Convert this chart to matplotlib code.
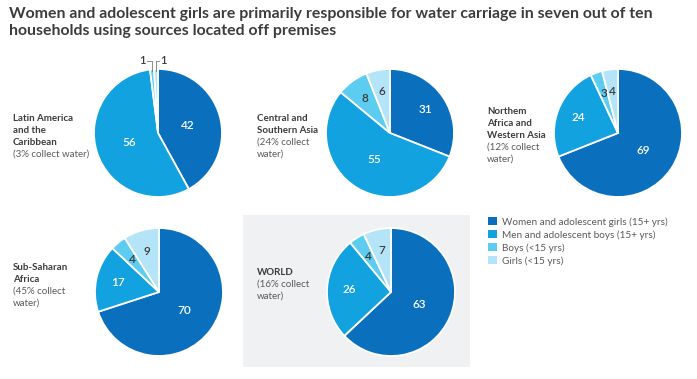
import matplotlib
matplotlib.use("Agg")
import matplotlib.pyplot as plt
from matplotlib.patches import Rectangle, Patch
import numpy as np

W, H = 697, 379

title = ("Women and adolescent girls are primarily responsible for water carriage in seven out of ten\n"
         "households using sources located off premises")

categories = ["Women and adolescent girls (15+ yrs)", "Men and adolescent boys (15+ yrs)",
              "Boys (<15 yrs)", "Girls (<15 yrs)"]
colors = ["#0a70bd", "#12a2df", "#5ccdf1", "#b4e4f7"]

latam = [42, 56, 1, 1]
csasia = [31, 55, 8, 6]
nawasia = [69, 24, 3, 4]
ssafrica = [70, 17, 4, 9]
world = [63, 26, 4, 7]

region_names = ["Latin America\nand the\nCaribbean", "Central and\nSouthern Asia",
                "Northem\nAfrica and\nWestern Asia", "Sub-Saharan\nAfrica", "WORLD"]
region_notes = ["(3% collect water)", "(24% collect\nwater)", "(12% collect\nwater)",
                "(45% collect\nwater)", "(16% collect\nwater)"]

FONT = "Lato"
DARK = "#3c3c3c"
GREY = "#5a5a5a"

fig = plt.figure(figsize=(W / 100, H / 100), dpi=100)
fig.patch.set_facecolor("white")

def fx(x):
    return x / W

def fy(y):
    return 1 - y / H

# grey background box behind WORLD
fig.patches.append(Rectangle((fx(243), fy(367)), fx(470) - fx(243), fy(215) - fy(367),
                             transform=fig.transFigure, facecolor="#f0f1f3",
                             edgecolor="none", zorder=-5))

fig.text(fx(9), fy(7), title, ha="left", va="top", fontsize=11.4, fontweight="bold",
         color=DARK, family=FONT, linespacing=1.25)

pies = [
    (latam, 158, 133, 13, 114),
    (csasia, 390, 133, 257, 114),
    (nawasia, 618, 133, 487, 107),
    (ssafrica, 159, 292, 13, 263),
    (world, 391, 292, 257, 268),
]

R = 64
for idx, (vals, cx, cy, lx, ly) in enumerate(pies):
    pad = 1.15
    size = 2 * R * pad
    ax = fig.add_axes([fx(cx - R * pad), fy(cy + R * pad), size / W, size / H])
    ax.set_zorder(2)
    wedges, _t = ax.pie(vals, colors=colors, startangle=90, counterclock=False,
                        wedgeprops=dict(edgecolor="white", linewidth=1.3))
    ax.set_xlim(-pad, pad)
    ax.set_ylim(-pad, pad)
    ax.set_aspect("equal")
    ax.axis("off")
    total = float(sum(vals))
    for i, (w, v) in enumerate(zip(wedges, vals)):
        ang = np.deg2rad((w.theta1 + w.theta2) / 2)
        if v / total < 0.02:
            continue
        rr = 0.48 if v / total >= 0.4 else 0.66
        col = "white" if i < 2 else DARK
        ax.text(rr * np.cos(ang), rr * np.sin(ang), str(v), ha="center", va="center",
                fontsize=8.5, color=col, family=FONT, fontweight="semibold")
    if idx == 0:
        # tiny slices labelled outside with leader lines
        for i, tx in [(2, -0.24), (3, 0.08)]:
            w = wedges[i]
            ang = np.deg2rad((w.theta1 + w.theta2) / 2)
            px, py = np.cos(ang), np.sin(ang)
            ty = 1.13
            bx = tx + (0.07 if tx < px else -0.07)
            ax.plot([bx, px, px], [ty, ty, py * 0.97], color="#777777", lw=0.6,
                    clip_on=False)
            ax.text(tx, ty, str(vals[i]), ha="center", va="center", fontsize=8,
                    color=DARK, family=FONT, fontweight="semibold", clip_on=False)
    name = region_names[idx]
    nlines = name.count("\n") + 1
    lh = 11.8
    fig.text(fx(lx), fy(ly), name, ha="left", va="top", fontsize=7, fontweight="bold",
             color=DARK, family=FONT, linespacing=1.45)
    fig.text(fx(lx), fy(ly + nlines * lh), region_notes[idx], ha="left", va="top",
             fontsize=7, color=GREY, family=FONT, linespacing=1.45)

handles = [Patch(facecolor=c, edgecolor="none") for c in colors]
leg = fig.legend(handles, categories, loc="upper left", bbox_to_anchor=(fx(484), fy(213)),
                 frameon=False, handlelength=0.85, handleheight=0.85,
                 handletextpad=0.55, labelspacing=0.35, borderaxespad=0,
                 prop=dict(family=FONT, size=7.2))
for t in leg.get_texts():
    t.set_color(GREY)

fig.savefig("out.png", dpi=100, facecolor="white")
